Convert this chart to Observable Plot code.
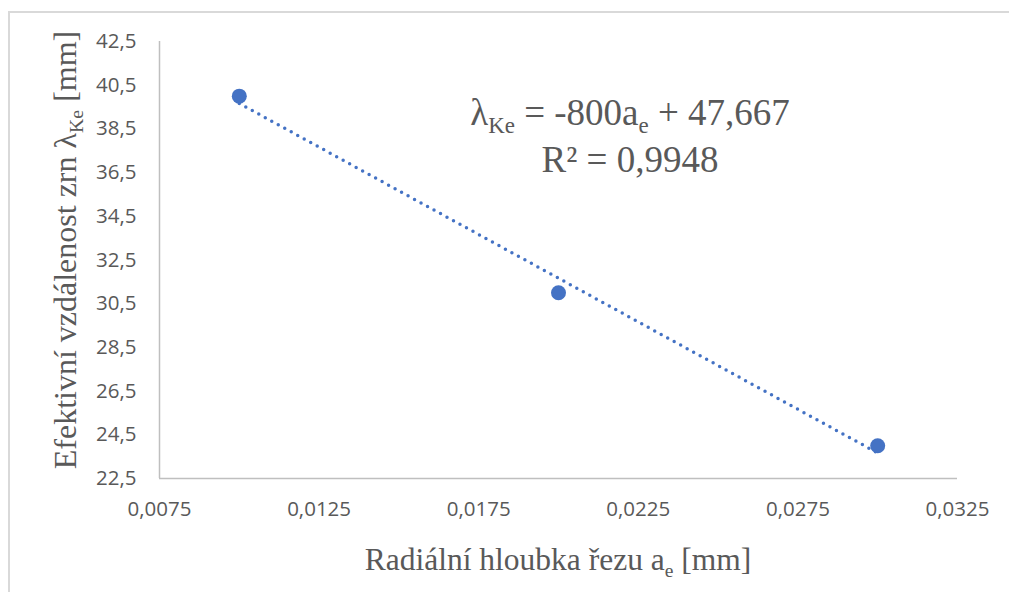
<!DOCTYPE html>
<html>
<head>
<meta charset="utf-8">
<script src="https://cdn.jsdelivr.net/npm/d3@7"></script>
<script src="https://cdn.jsdelivr.net/npm/@observablehq/plot@0.6"></script>
<style>
  body { margin: 0; background: #fff; overflow: hidden; }
  #chart { position: absolute; left: 0; top: 0; }
  #frame { position: absolute; left: 8px; top: 11px; width: 1100px; height: 700px;
           border-left: 2px solid #d9d9d9; border-top: 2px solid #d9d9d9; pointer-events: none; }
  text.serif, text.serif tspan { font-family: "Liberation Serif", "Times New Roman", serif !important; }
</style>
</head>
<body>
<div id="chart"></div>
<div id="frame"></div>
<script>
// ---- data ----
const aeValues = [0.01, 0.02, 0.03];          // radial depth of cut a_e [mm]
const lambdaValues = [40, 31, 24];            // effective grain spacing λKe [mm]
const xTicks = [0.0075, 0.0125, 0.0175, 0.0225, 0.0275, 0.0325];
const yTicks = [22.5, 24.5, 26.5, 28.5, 30.5, 32.5, 34.5, 36.5, 38.5, 40.5, 42.5];
const xTitleParts = [["Radiální hloubka řezu a", false], ["e", true], [" [mm]", false]];
const yTitleParts = [["Efektivní vzdálenost zrn λ", false], ["Ke", true], [" [mm]", false]];
const eqLine1Parts = [["λ", false], ["Ke", true], [" = -800a", false], ["e", true], [" + 47,667", false]];
const eqLine2Parts = [["R² = 0,9948", false]];

const data = aeValues.map((x, i) => ({x, y: lambdaValues[i]}));
const fmtX = d => d.toFixed(4).replace(".", ",");
const fmtY = d => d.toFixed(1).replace(".", ",");
const blue = "#4472C4";
const grey = "#595959";
const tickFont = "'Open Sans', sans-serif";

const chart = Plot.plot({
  width: 1009, height: 592,
  marginLeft: 159, marginRight: 52, marginTop: 41, marginBottom: 114,
  style: { fontFamily: tickFont, fontSize: "20px", color: grey, background: "transparent" },
  x: { domain: [0.0075, 0.0325] },
  y: { domain: [22.5, 42.5] },
  marks: [
    Plot.axisX(xTicks, { tickSize: 0, tickPadding: 23, tickFormat: fmtX, fill: grey, label: null,
      fontSize: 20.5, fontFamily: tickFont }),
    Plot.axisY(yTicks, { tickSize: 0, tickPadding: 23, tickFormat: fmtY, fill: grey, label: null,
      fontSize: 20.5, fontFamily: tickFont }),
    Plot.ruleY([22.5], { stroke: "#bfbfbf", strokeWidth: 1.5 }),
    Plot.ruleX([0.0075], { stroke: "#bfbfbf", strokeWidth: 1.5 }),
    Plot.linearRegressionY(data, { x: "x", y: "y", ci: 0, stroke: blue, strokeWidth: 3.5,
      strokeDasharray: "0,7.4", strokeLinecap: "round" }),
    Plot.dot(data, { x: "x", y: "y", r: 7.5, fill: blue, stroke: "none" })
  ]
});
document.getElementById("chart").appendChild(chart);

// rich text with subscripts
function rich(parent, parts, x, y, size, rotate) {
  const t = parent.append("text")
    .attr("class", "serif")
    .attr("text-anchor", "middle")
    .attr("fill", grey)
    .style("font-family", "'Liberation Serif', 'Times New Roman', serif")
    .style("font-size", size + "px")
    .attr("transform", rotate ? `translate(${x},${y}) rotate(-90)` : `translate(${x},${y})`);
  const shift = Math.round(size * 0.22);
  let prevSub = false;
  parts.forEach(([s, sub]) => {
    const sp = t.append("tspan").text(s);
    if (sub) sp.style("font-size", (size * 0.62) + "px");
    if (sub && !prevSub) sp.attr("dy", shift);
    if (!sub && prevSub) sp.attr("dy", -shift);
    prevSub = sub;
  });
  return t;
}
const svg = d3.select(chart);
rich(svg, xTitleParts, 558, 570, 31.5, false);
rich(svg, yTitleParts, 76, 250, 32, true);
rich(svg, eqLine1Parts, 630, 125, 37, false);
rich(svg, eqLine2Parts, 630, 172, 37, false);
</script>
</body>
</html>
